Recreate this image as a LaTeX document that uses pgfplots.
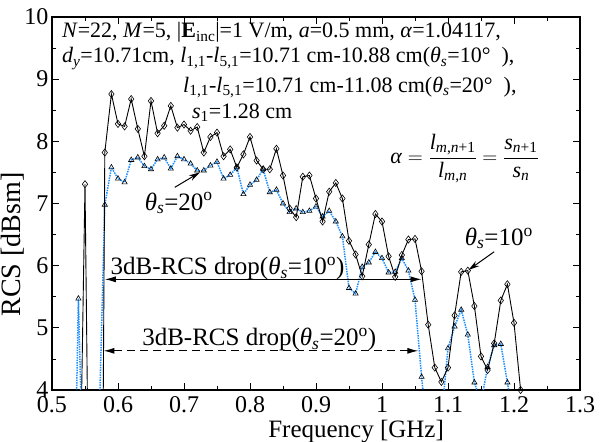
\documentclass[border=0pt]{standalone}
\usepackage{pgfplots}
\pgfplotsset{compat=1.18}
\usepackage{pgfplotstable}
\usepackage{fontspec}
\setmainfont{Liberation Serif}
\usetikzlibrary{arrows.meta}
\definecolor{myblue}{RGB}{30,144,255}

\pgfplotstableread{
f v
0.54 0.69
0.55 7.31
0.56 -2.1
0.57 -8.8
0.58 7.82
0.59 8.76
0.60 8.28
0.61 8.24
0.62 8.68
0.63 8.20
0.64 7.76
0.65 8.65
0.66 8.13
0.67 8.25
0.68 8.57
0.69 8.22
0.70 8.27
0.71 8.17
0.72 8.23
0.73 7.82
0.74 8.07
0.75 8.14
0.76 7.76
0.77 7.87
0.78 7.58
0.79 7.79
0.80 8.07
0.81 7.69
0.82 7.55
0.83 7.55
0.84 7.88
0.85 7.45
0.86 6.92
0.87 6.78
0.88 7.43
0.89 7.45
0.90 7.08
0.91 6.71
0.92 7.19
0.93 7.33
0.94 7.08
0.95 6.40
0.96 6.18
0.97 5.83
0.98 6.34
0.99 6.83
1.00 6.71
1.01 6.15
1.02 5.82
1.03 6.17
1.04 6.42
1.05 6.43
1.06 5.91
1.07 5.05
1.08 4.36
1.09 4.13
1.10 4.36
1.11 5.20
1.12 5.90
1.13 5.92
1.14 5.35
1.15 4.54
1.16 4.32
1.17 4.75
1.18 5.44
1.19 5.70
1.20 5.08
1.21 4.00
}\tenDeg

\pgfplotstableread{
f v
0.53 -0.2
0.54 5.47
0.55 1.27
0.56 1.0
0.57 2.9
0.58 6.98
0.59 7.58
0.60 7.40
0.61 7.34
0.62 7.70
0.63 7.74
0.64 7.60
0.65 7.55
0.66 7.71
0.67 7.74
0.68 7.56
0.69 7.76
0.70 7.71
0.71 7.64
0.72 7.53
0.73 7.53
0.74 7.61
0.75 7.67
0.76 7.40
0.77 7.46
0.78 7.58
0.79 7.15
0.80 7.30
0.81 7.38
0.82 7.55
0.83 7.18
0.84 7.22
0.85 7.00
0.86 6.86
0.87 6.92
0.88 6.86
0.89 6.88
0.90 6.95
0.91 6.79
0.92 6.88
0.93 6.71
0.94 6.47
0.95 5.64
0.96 5.55
0.97 5.98
0.98 6.05
0.99 6.22
1.00 6.12
1.01 5.89
1.02 5.90
1.03 6.12
1.04 5.92
1.05 5.45
1.06 4.21
1.07 3.16
1.08 3.00
1.09 3.55
1.10 4.67
1.11 5.02
1.12 5.29
1.13 4.89
1.14 4.12
1.15 3.80
1.16 4.37
1.17 4.72
1.18 4.74
1.19 4.12
1.20 3.50
}\twentyDeg

\begin{document}
\begin{tikzpicture}
\begin{axis}[
  scale only axis, width=528pt, height=373pt,
  xmin=0.5, xmax=1.3, ymin=4, ymax=10,
  xtick={0.5,0.6,0.7,0.8,0.9,1.0,1.1,1.2,1.3},
  xticklabels={0.5,0.6,0.7,0.8,0.9,1,1.1,1.2,1.3},
  ytick={4,5,6,7,8,9,10},
  yticklabels={4,5,6,7,8,9,10},
  /pgf/number format/assume math mode=true,
  minor x tick num=1, minor y tick num=1,
  tick align=inside,
  major tick length=7pt, minor tick length=4pt,
  axis line style={line width=1.1pt},
  every tick/.style={black, line width=0.8pt},
  tick label style={font=\fontsize{24}{24}\selectfont},
  xticklabel style={yshift=-3pt},
  yticklabel style={xshift=0pt},
  xlabel={Frequency [GHz]},
  ylabel={RCS [dBsm]},
  label style={font=\fontsize{25}{25}\selectfont},
  xlabel style={at={(axis description cs:0.576,0)}, anchor=north, yshift=-27pt},
  ylabel style={at={(axis description cs:0,0.39)}, anchor=south, yshift=24pt, font=\fontsize{28}{28}\selectfont},
]
\addplot[myblue, densely dotted, line width=1.5pt, mark=triangle, mark size=3pt,
  mark options={solid, black, fill=white, line width=0.6pt}] table[x=f, y=v] {\twentyDeg};
\addplot[black, line width=0.9pt, mark=diamond, mark size=3.6pt,
  mark options={solid, black, fill=white, line width=0.6pt}] table[x=f, y=v] {\tenDeg};

\coordinate (LL) at (rel axis cs:0,0);
\coordinate (UR) at (rel axis cs:1,1);

% text block
\node[anchor=base west, inner sep=0pt, font=\fontsize{22}{22}\selectfont] at (axis cs:0.515,9.662)
  {\textit{N}=22, \textit{M}=5, |\textbf{E}\textsubscript{inc}|=1 V/m, \textit{a}=0.5 mm, \textit{α}=1.04117,};
\node[anchor=base west, inner sep=0pt, font=\fontsize{22}{22}\selectfont] at (axis cs:0.515,9.26)
  {\textit{d}\textsubscript{\textit{y}}=10.71cm, \textit{l}\textsubscript{1,1}-\textit{l}\textsubscript{5,1}=10.71 cm-10.88 cm(\textit{θ}\textsubscript{\textit{s}}=10°~~),};
\node[anchor=base west, inner sep=0pt, font=\fontsize{22}{22}\selectfont] at (axis cs:0.6985,8.79)
  {\textit{l}\textsubscript{1,1}-\textit{l}\textsubscript{5,1}=10.71 cm-11.08 cm(\textit{θ}\textsubscript{\textit{s}}=20°~~),};
\node[anchor=base west, inner sep=0pt, font=\fontsize{22}{22}\selectfont] at (axis cs:0.712,8.375)
  {\textit{s}\textsubscript{1}=1.28 cm};

% formula
\node[inner sep=0pt, font=\fontsize{22}{22}\selectfont] at (axis cs:1.125,7.72)
  {$\displaystyle \mbox{\textit{α}} = \frac{\mbox{\textit{l}\textsubscript{\textit{m},\textit{n}+1}}}{\mbox{\textit{l}\textsubscript{\textit{m},\textit{n}}}} = \frac{\mbox{\textit{s}\textsubscript{\textit{n}+1}}}{\mbox{\textit{s}\textsubscript{\textit{n}}}}$};

% theta labels and arrows
\node[anchor=base, inner sep=0pt, font=\fontsize{25}{25}\selectfont] at (axis cs:0.692,6.895)
  {\textit{θ}\textsubscript{\textit{s}}=20\textsuperscript{o}};
\draw[line width=1pt, -{Stealth[length=11pt,width=6pt]}] (axis cs:0.686,7.26) -- (axis cs:0.724,7.50);
\node[anchor=base, inner sep=0pt, font=\fontsize{25}{25}\selectfont] at (axis cs:1.177,6.33)
  {\textit{θ}\textsubscript{\textit{s}}=10\textsuperscript{o}};
\draw[line width=1pt, -{Stealth[length=11pt,width=6pt]}] (axis cs:1.170,6.224) -- (axis cs:1.131,5.93);

% 3dB arrows
\draw[line width=1pt, {Latex[length=11pt,width=6pt]}-{Latex[length=11pt,width=6pt]}]
  (axis cs:0.580,5.78) -- (axis cs:1.060,5.78);
\node[anchor=base, inner sep=0pt, font=\fontsize{25}{25}\selectfont] at (axis cs:0.766,5.85)
  {3dB-RCS drop(\textit{θ}\textsubscript{\textit{s}}=10\textsuperscript{o})};
\draw[line width=1pt, dash pattern=on 8pt off 5pt, {Latex[length=11pt,width=6pt]}-{Latex[length=11pt,width=6pt]}]
  (axis cs:0.578,4.63) -- (axis cs:1.055,4.63);
\node[anchor=base, inner sep=0pt, font=\fontsize{25}{25}\selectfont] at (axis cs:0.814,4.71)
  {3dB-RCS drop(\textit{θ}\textsubscript{\textit{s}}=20\textsuperscript{o})};
\end{axis}
\pgfresetboundingbox
\path ([shift={(-52pt,-52pt)}]LL) rectangle ([shift={(20pt,17pt)}]UR);
\end{tikzpicture}
\end{document}
